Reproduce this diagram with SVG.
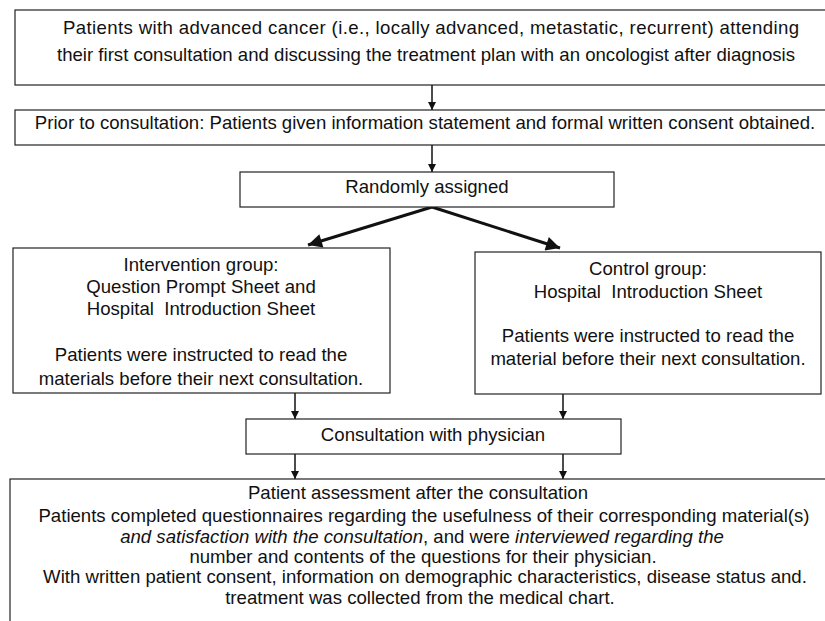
<svg xmlns="http://www.w3.org/2000/svg" width="825" height="621" viewBox="0 0 825 621">
<style>
.box{fill:#fff;stroke:#222;stroke-width:1.2}
text{font-family:"Liberation Sans",Arial,sans-serif;font-size:18.6px;fill:#111;text-anchor:middle}
.c{stroke:#111;stroke-width:1.5;fill:none}
.d{stroke:#111;stroke-width:3;fill:none}
.i{font-style:italic}
</style>
<defs>
<marker id="ah" viewBox="0 0 10 10" refX="10" refY="5" markerWidth="8" markerHeight="8" markerUnits="userSpaceOnUse" orient="auto"><path d="M0,0 L10,5 L0,10 z" fill="#111"/></marker>
<marker id="ah2" viewBox="0 0 10 10" refX="10" refY="5" markerWidth="16" markerHeight="14" markerUnits="userSpaceOnUse" orient="auto"><path d="M0,0 L10,5 L0,10 z" fill="#111"/></marker>
</defs>
<g id="connectors">
<line class="c" x1="432" y1="85" x2="432" y2="110" marker-end="url(#ah)"/>
<line class="c" x1="432" y1="145" x2="432" y2="172" marker-end="url(#ah)"/>
<line class="d" x1="432" y1="207" x2="308" y2="245" marker-end="url(#ah2)"/>
<line class="d" x1="432" y1="207" x2="560" y2="248" marker-end="url(#ah2)"/>
<line class="c" x1="295" y1="393" x2="295" y2="419" marker-end="url(#ah)"/>
<line class="c" x1="563" y1="394" x2="563" y2="419" marker-end="url(#ah)"/>
<line class="c" x1="295" y1="454" x2="295" y2="479" marker-end="url(#ah)"/>
<line class="c" x1="563" y1="454" x2="563" y2="479" marker-end="url(#ah)"/>
</g>
<g id="n1">
<rect class="box" x="15" y="10" width="815" height="75"/>
<text x="431" y="34" textLength="736" lengthAdjust="spacing">Patients with advanced cancer (i.e., locally advanced, metastatic, recurrent) attending</text>
<text x="426" y="61">their first consultation and discussing the treatment plan with an oncologist after diagnosis</text>
</g>
<g id="n2">
<rect class="box" x="15" y="110" width="815" height="35"/>
<text x="425" y="129">Prior to consultation: Patients given information statement and formal written consent obtained.</text>
</g>
<g id="n3">
<rect class="box" x="240" y="172" width="374" height="35"/>
<text x="427" y="193">Randomly assigned</text>
</g>
<g id="n4">
<rect class="box" x="13" y="248" width="377" height="145"/>
<text x="201" y="271">Intervention group:</text>
<text x="201" y="293">Question Prompt Sheet and</text>
<text x="201" y="315" xml:space="preserve">Hospital  Introduction Sheet</text>
<text x="201" y="361">Patients were instructed to read the</text>
<text x="201" y="385">materials before their next consultation.</text>
</g>
<g id="n5">
<rect class="box" x="475" y="252" width="346" height="142"/>
<text x="648" y="275">Control group:</text>
<text x="648" y="298" xml:space="preserve">Hospital  Introduction Sheet</text>
<text x="648" y="342">Patients were instructed to read the</text>
<text x="648" y="365">material before their next consultation.</text>
</g>
<g id="n6">
<rect class="box" x="246" y="419" width="375" height="35"/>
<text x="433" y="441">Consultation with physician</text>
</g>
<g id="n7">
<rect class="box" x="10" y="479" width="820" height="160"/>
<text x="418" y="499">Patient assessment after the consultation</text>
<text x="424" y="522">Patients completed questionnaires regarding the usefulness of their corresponding material(s)</text>
<text x="422" y="543"><tspan class="i">and satisfaction with the consultation</tspan>, and were <tspan class="i">interviewed regarding the</tspan></text>
<text x="423" y="563">number and contents of the questions for their physician.</text>
<text x="425" y="583">With written patient consent, information on demographic characteristics, disease status and.</text>
<text x="420" y="604">treatment was collected from the medical chart.</text>
</g>
</svg>
